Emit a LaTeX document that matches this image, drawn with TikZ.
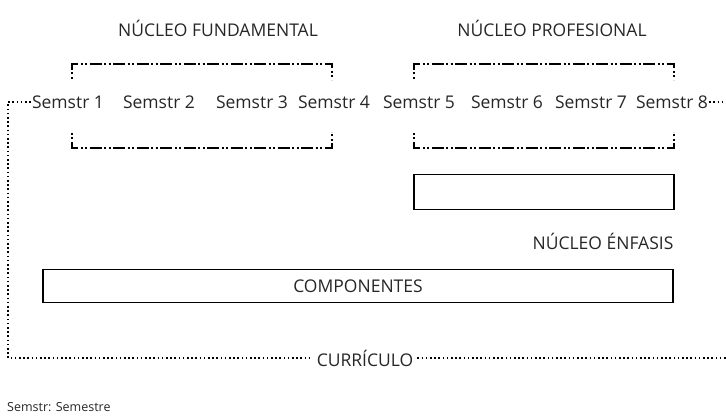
\documentclass[tikz,border=0pt]{standalone}
\usepackage{fontspec}
\setmainfont{Open Sans}
\usetikzlibrary{calc,positioning}
\tikzset{
		ncbar angle/.initial=90,
		ncbar/.style={
		to path=(\tikztostart)
		-- ($(\tikztostart)!#1!\pgfkeysvalueof{/tikz/ncbar angle}:(\tikztotarget)$)
		-- ($(\tikztotarget)!($(\tikztostart)!#1!\pgfkeysvalueof{/tikz/ncbar angle}:(\tikztotarget)$)!\pgfkeysvalueof{/tikz/ncbar angle}:
			(\tikztostart)$)
		-- (\tikztotarget)
		},
		ncbar/.default=16pt,
		}
\tikzset{top brace/.style={ncbar=16pt}}
\tikzset{bottom brace/.style={ncbar=-16pt}}
\tikzset{nucleo/.style={line width=1.6pt,dash pattern=on 12pt off 2.5pt on 2pt off 2.5pt on 2pt off 2.5pt,dash phase=13.5pt}}
\tikzset{curri/.style={line width=1.6pt,dash pattern=on 1.6pt off 2.6pt}}

\begin{document}
\begin{tikzpicture}[x=1pt,y=-1pt,font=\fontsize{17.5}{20}\selectfont]
					\tikzstyle{every node}=[inner sep=1pt,text=black!85]
					\useasboundingbox (0,0) rectangle (726,419);
					%TITLES
					\node(fund) at (218,28){NÚCLEO FUNDAMENTAL};
					\node(prof) at (552,28){NÚCLEO PROFESIONAL};
					%SEMESTERS
					\node(s1) at (68,102){Semstr 1};
					\node(s2) at (159,102){Semstr 2};
					\node(s3) at (252,102){Semstr 3};
					\node(s4) at (334,102){Semstr 4};
					\node(s5) at (419,102){Semstr 5};
					\node(s6) at (507,102){Semstr 6};
					\node(s7) at (591,102){Semstr 7};
					\node(s8) at (672,102){Semstr 8};
					%BOXES
					\node[draw,line width=1.2pt,minimum width=260pt,minimum height=35pt](enf) at (544,192){};
					\node(enft)[below left = 22pt and 0pt of enf.south east,anchor=north east]{NÚCLEO ÉNFASIS};
					\node[draw,line width=1.2pt,minimum width=630pt,minimum height=33pt](comp) at (358,286){COMPONENTES};
					\node(curr)[inner sep=4pt] at (365,358){CURRÍCULO};
					\coordinate(ctop) at (8,102);
					\coordinate(cbot) at (8,358);
					\coordinate(cend) at (726,358);
					\coordinate(send) at (726,102);
					%CURRICULUM LINE
					\draw[curri] (s1.west) -- (ctop) -- (cbot) -- (curr.west);
					\draw[curri] (curr.east) -- (cend);
					\draw[curri] (s8.east) -- (send);
					%BRACKETS
					\draw[nucleo] (72,80) to [top brace] (332,80);
					\draw[nucleo] (72,132) to [bottom brace] (332,132);
					\draw[nucleo] (414,80) to [top brace] (674,80);
					\draw[nucleo] (414,132) to [bottom brace] (674,132);
					%NOTE
					\node[anchor=west,font=\fontsize{12.5}{14}\selectfont](note) at (6,407){Semstr: Semestre};
				\end{tikzpicture}
\end{document}
